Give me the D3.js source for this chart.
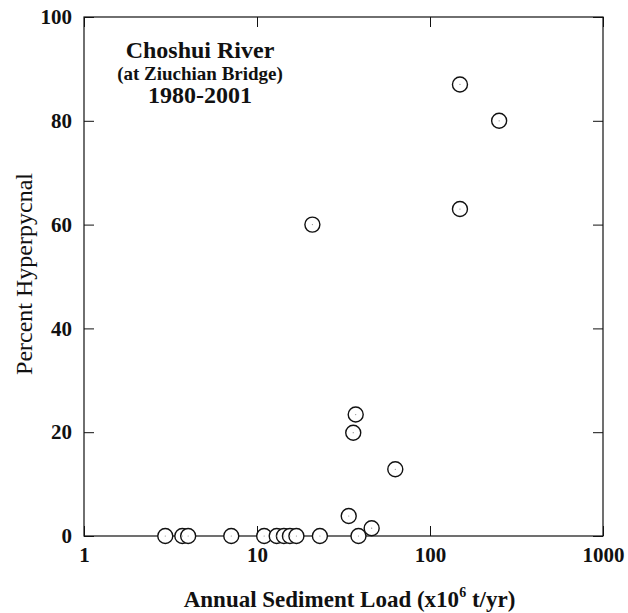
<!DOCTYPE html>
<html>
<head>
<meta charset="utf-8">
<script src="https://cdn.jsdelivr.net/npm/d3@7"></script>
<style>
  body { margin: 0; background: #fff; }
  svg text { font-family: "Liberation Serif", "Times New Roman", serif; fill: #111; }
</style>
</head>
<body>
<svg id="chart"></svg>
<script>
// annual sediment load (x10^6 t/yr) and percent hyperpycnal
const loads = [2.95, 3.7, 4.0, 7.1, 11.0, 13.0, 14.3, 15.5, 16.9, 23.1, 38.6,
               37.2, 36.0, 63, 33.9, 46.0, 20.9, 149, 251, 149];
const hyper = [0, 0, 0, 0, 0, 0, 0, 0, 0, 0, 0,
               23.4, 19.9, 12.85, 3.85, 1.5, 60, 87, 80, 63];
const xTicks = [1, 10, 100, 1000];
const yTicks = [0, 20, 40, 60, 80, 100];
const titleLines = ["Choshui River", "(at Ziuchian Bridge)", "1980-2001"];

const width = 628;
const height = 613;
const plotLeft = 84, plotRight = 603, plotTop = 17, plotBottom = 536;

const svg = d3.select("#chart")
    .attr("width", width)
    .attr("height", height);

const xScale = d3.scaleLog()
    .domain([1, 1000])
    .range([plotLeft, plotRight]);

const yScale = d3.scaleLinear()
    .domain([0, 100])
    .range([plotBottom, plotTop]);

// frame
svg.append("rect")
    .attr("x", plotLeft)
    .attr("y", plotTop)
    .attr("width", plotRight - plotLeft)
    .attr("height", plotBottom - plotTop)
    .attr("fill", "none")
    .attr("stroke", "#111")
    .attr("stroke-width", 1.2);

// bottom axis (ticks inward)
const xAxis = d3.axisBottom(xScale)
    .tickValues(xTicks)
    .tickFormat(d3.format("d"))
    .tickSizeInner(-10)
    .tickSizeOuter(0)
    .tickPadding(11);
svg.append("g")
    .attr("transform", "translate(0," + plotBottom + ")")
    .call(xAxis)
    .call(g => g.select(".domain").remove())
    .call(g => g.selectAll("line").attr("stroke", "#111"))
    .call(g => g.selectAll("text").style("font-size", "21px").style("font-weight", "bold"));

// top axis, ticks only
svg.append("g")
    .attr("transform", "translate(0," + plotTop + ")")
    .call(d3.axisTop(xScale).tickValues(xTicks).tickSizeInner(-10).tickSizeOuter(0).tickFormat(""))
    .call(g => g.select(".domain").remove())
    .call(g => g.selectAll("line").attr("stroke", "#111"));

// left axis
const yAxis = d3.axisLeft(yScale)
    .tickValues(yTicks)
    .tickSizeInner(-10)
    .tickSizeOuter(0)
    .tickPadding(12);
svg.append("g")
    .attr("transform", "translate(" + plotLeft + ",0)")
    .call(yAxis)
    .call(g => g.select(".domain").remove())
    .call(g => g.selectAll("line").attr("stroke", "#111"))
    .call(g => g.selectAll("text").style("font-size", "21px").style("font-weight", "bold"));

// right axis, ticks only
svg.append("g")
    .attr("transform", "translate(" + plotRight + ",0)")
    .call(d3.axisRight(yScale).tickValues(yTicks).tickSizeInner(-10).tickSizeOuter(0).tickFormat(""))
    .call(g => g.select(".domain").remove())
    .call(g => g.selectAll("line").attr("stroke", "#111"));

// points
const pts = loads.map((d, i) => ({ x: d, y: hyper[i] }));
svg.selectAll("circle.dot")
    .data(pts)
    .enter()
    .append("circle")
    .attr("class", "dot")
    .attr("cx", d => xScale(d.x))
    .attr("cy", d => yScale(d.y))
    .attr("r", 7.5)
    .attr("fill", "#fff")
    .attr("stroke", "#111")
    .attr("stroke-width", 1.4);

svg.selectAll("circle.center")
    .data(pts)
    .enter()
    .append("circle")
    .attr("class", "center")
    .attr("cx", d => xScale(d.x))
    .attr("cy", d => yScale(d.y))
    .attr("r", 0.6)
    .attr("fill", "#888");

// title block, one text per line
const titleY = [58, 80, 103];
const titleSize = [24, 19, 24];
svg.selectAll("text.title")
    .data(titleLines)
    .enter()
    .append("text")
    .attr("class", "title")
    .attr("x", 200)
    .attr("y", (d, i) => titleY[i])
    .attr("text-anchor", "middle")
    .style("font-weight", "bold")
    .style("font-size", (d, i) => titleSize[i] + "px")
    .text(d => d);

// x label
const xl = svg.append("text")
    .attr("x", (plotLeft + plotRight) / 2 + 6)
    .attr("y", 607)
    .attr("text-anchor", "middle")
    .style("font-size", "23px")
    .style("font-weight", "bold");
xl.append("tspan").text("Annual Sediment Load (x10");
xl.append("tspan").attr("dy", -10).style("font-size", "14px").text("6");
xl.append("tspan").attr("dy", 10).text(" t/yr)");

// y label
svg.append("text")
    .attr("transform", "translate(32,274) rotate(-90)")
    .attr("text-anchor", "middle")
    .style("font-size", "24px")
    .text("Percent Hyperpycnal");
</script>
</body>
</html>
